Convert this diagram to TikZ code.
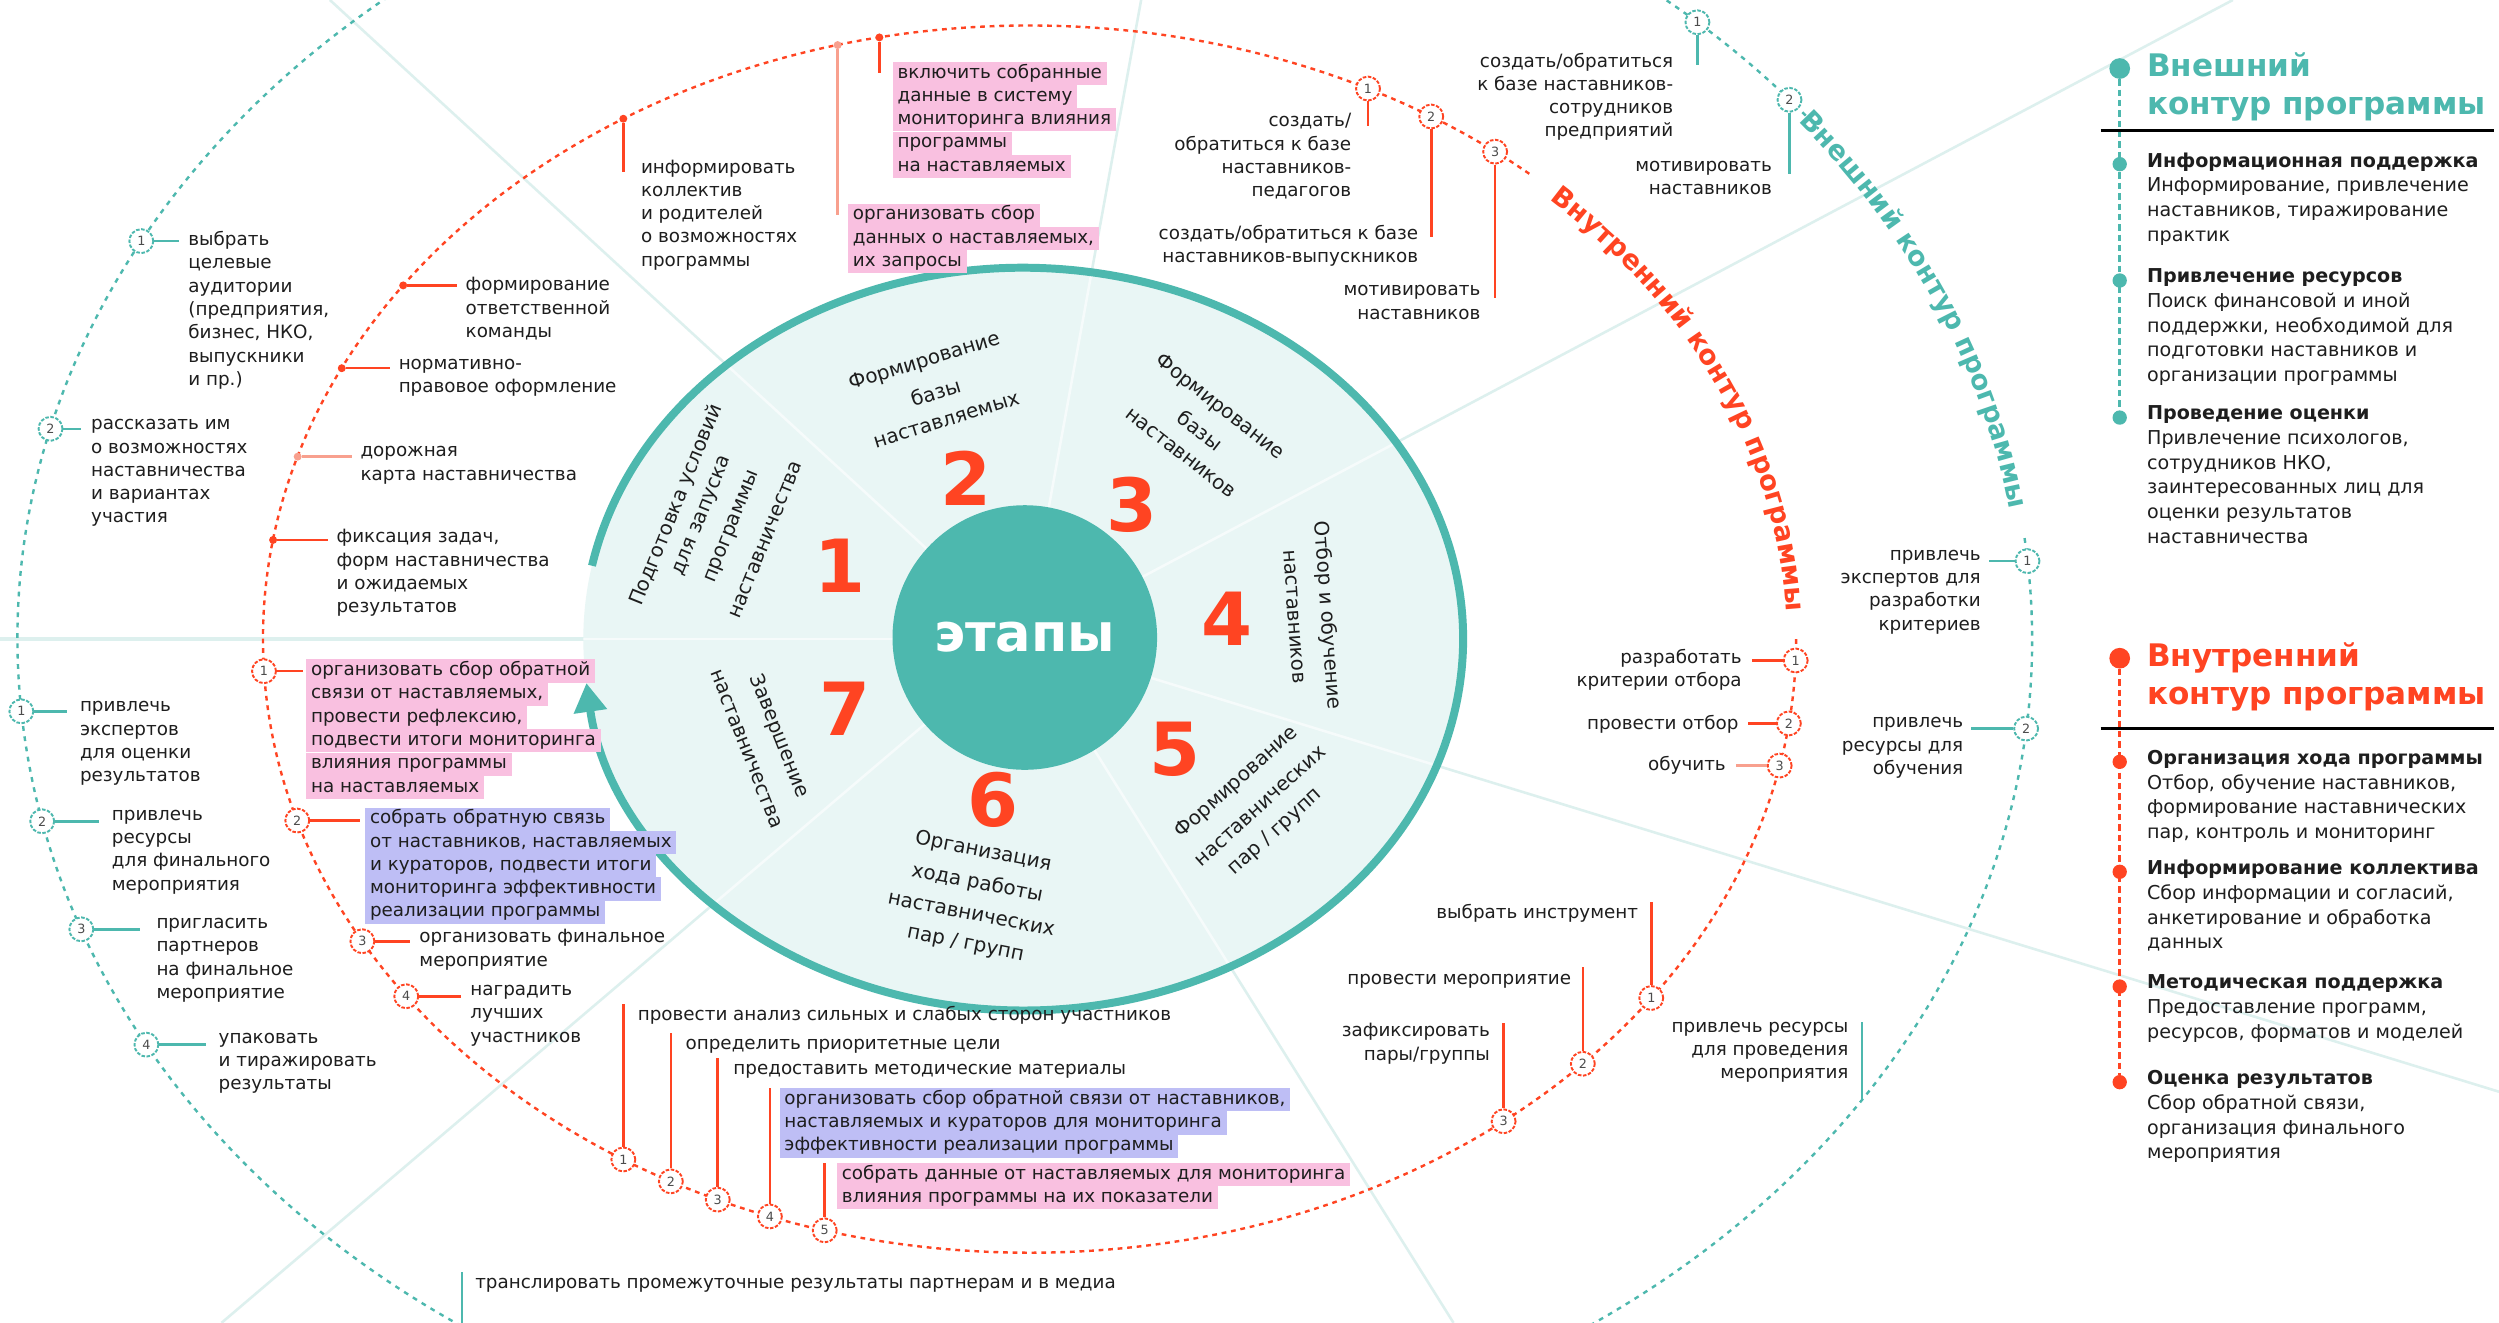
\documentclass[tikz,border=0pt]{standalone}
\usepackage{fontspec}
\setmainfont{DejaVu Sans}
\usetikzlibrary{arrows.meta,decorations.text}
\definecolor{redc}{HTML}{FF4422}
\definecolor{redl}{HTML}{F8A08E}
\definecolor{tealc}{HTML}{4DB8AE}
\definecolor{teall}{HTML}{E9F6F5}
\definecolor{spokec}{HTML}{DDF0EE}
\definecolor{spokein}{HTML}{F6FBFB}
\definecolor{pinkh}{HTML}{F9C0E0}
\definecolor{lavh}{HTML}{BEBEF5}
\definecolor{ink}{HTML}{1E1E1E}
\newcommand\lblfont{\fontsize{11.5}{14.6}\selectfont}
\newcommand\panelfont{\fontsize{12}{15.5}\selectfont}
\newcommand\pheadfont{\bfseries\fontsize{19.5}{24}\selectfont}
\newcommand\stagefont{\fontsize{12.5}{15}\selectfont}
\newcommand\bignumfont{\bfseries\fontsize{46}{46}\selectfont}
\newcommand\cnumfont{\fontsize{8}{8}\selectfont}
\newcommand\arctitlefont{\bfseries\fontsize{17}{17}\selectfont}
\tikzset{
  lbl/.style={font=\lblfont, text=ink, inner sep=0pt, execute at begin node=\strut},
  lblL/.style={lbl, align=left, anchor=north west},
  lblR/.style={lbl, align=right, anchor=north east},
  hlbox/.style={font=\lblfont, text=ink, anchor=west, inner xsep=3pt, inner ysep=0pt, text height=10.2pt, text depth=4.3pt},
  rnum/.style={circle, draw=redc, line width=1.2pt, dash pattern=on 2.2pt off 1pt, fill=white, minimum size=15pt, inner sep=0pt, font=\cnumfont, text=black!70},
  tnum/.style={rnum, draw=tealc},
  rdot/.style={circle, fill=redc, minimum size=5pt, inner sep=0pt},
  rconn/.style={draw=redc, line width=1.6pt},
  lconn/.style={draw=redl, line width=1.6pt},
  tconn/.style={draw=tealc, line width=1.6pt},
  reddash/.style={draw=redc, line width=1.5pt, dash pattern=on 3pt off 3pt},
  tealdash/.style={draw=tealc, line width=1.5pt, dash pattern=on 3pt off 3.5pt},
  spokeln/.style={draw=spokec, line width=1.6pt},
  spokeinner/.style={draw=spokein, line width=1.6pt},
  stagetxt/.style={font=\stagefont, text=ink, inner sep=0pt},
  bignum/.style={font=\bignumfont, text=redc, inner sep=0pt},
  phead/.style={font=\pheadfont, align=left, anchor=north west, inner sep=0pt, execute at begin node=\strut},
  ptext/.style={font=\panelfont, text=ink, align=left, anchor=north west, inner sep=0pt, execute at begin node=\strut},
  bigdot/.style={circle, minimum size=13pt, inner sep=0pt},
  smalldot/.style={circle, minimum size=9pt, inner sep=0pt},
}
\begin{document}
\begin{tikzpicture}[x=1pt,y=-1pt]
\useasboundingbox (0,0) rectangle (1568,830);
\fill[white] (0,0) rectangle (1568,830);
\clip (0,0) rectangle (1568,830);
\coordinate (c0) at (643,401);
\coordinate (cr) at (646,401);
\coordinate (cd) at (642,401);
% spokes (outside)
\coordinate (s1) at (0,401);
\coordinate (s2) at (207,0);
\coordinate (s3) at (716,0);
\coordinate (s4) at (1401,0);
\coordinate (s5) at (1568,685);
\coordinate (s6) at (912,830);
\coordinate (s7) at (139,830);
\foreach \s in {s2,s3,s4,s5,s6,s7} \draw[spokeln] (c0) -- (\s);
\draw[spokeln, line width=2.6pt] (c0) -- (s1);
% disc
\fill[teall] (cd) ellipse [x radius=276, y radius=233];
\begin{scope}
  \clip (cd) ellipse [x radius=276, y radius=233];
  \foreach \s in {s1,s2,s3,s4,s5,s6,s7} \draw[spokeinner] (c0) -- (\s);
\end{scope}
% disc border with arrow
\draw[tealc, line width=5pt, -{Triangle[length=18pt, width=20pt]}] (cd) ++(-168.6:276 and 233) arc[start angle=-168.6, end angle=173.2, x radius=276, y radius=233];
% core
\node[circle, fill=tealc, minimum size=166pt, inner sep=0pt, font=\bfseries\fontsize{33}{33}\selectfont, text=white] (core) at (643,400) {этапы};
% numbers
\node[bignum] (n1) at (527,355) {1};
\node[bignum] (n2) at (606,300) {2};
\node[bignum] (n3) at (710,317) {3};
\node[bignum] (n4) at (770,388) {4};
\node[bignum] (n5) at (737,470) {5};
\node[bignum] (n6) at (623,502) {6};
\node[bignum] (n7) at (530,445) {7};
% stage texts
\node[stagetxt, rotate=68] (st1a) at (424.5,317) {Подготовка условий};
\node[stagetxt, rotate=68] (st1b) at (441.3,323.7) {для запуска};
\node[stagetxt, rotate=68] (st1c) at (460,330.8) {программы};
\node[stagetxt, rotate=68] (st1d) at (480.5,338.7) {наставничества};
\node[stagetxt, rotate=17] (st2a) at (580,227) {Формирование};
\node[stagetxt, rotate=17] (st2b) at (587,246) {базы};
\node[stagetxt, rotate=17] (st2c) at (594,264) {наставляемых};
\node[stagetxt, rotate=-38] (st3a) at (765.2,255.5) {Формирование};
\node[stagetxt, rotate=-38] (st3b) at (753,270) {базы};
\node[stagetxt, rotate=-38] (st3c) at (740.7,284.6) {наставников};
\node[stagetxt, rotate=-86] (st4a) at (832.6,386) {Отбор и обучение};
\node[stagetxt, rotate=-86] (st4b) at (811.7,387) {наставников};
\node[stagetxt, rotate=42] (st5a) at (776,491) {Формирование};
\node[stagetxt, rotate=42] (st5b) at (791,506) {наставнических};
\node[stagetxt, rotate=42] (st5c) at (800,522) {пар / групп};
\node[stagetxt, rotate=-11] (st6a) at (617,534.5) {Организация};
\node[stagetxt, rotate=-11] (st6b) at (613.2,554.2) {хода работы};
\node[stagetxt, rotate=-11] (st6c) at (609.4,573.8) {наставнических};
\node[stagetxt, rotate=-11] (st6d) at (605.8,592.4) {пар / групп};
\node[stagetxt, rotate=-68.5] (st7a) at (488.6,461.9) {Завершение};
\node[stagetxt, rotate=-68.5] (st7b) at (468.2,470) {наставничества};
% dashed contours
\draw[reddash] (cr) ++(0:481 and 385) arc[start angle=0, end angle=311, x radius=481, y radius=385];
\path[decorate, decoration={text along path, text align=center, text color=redc, text={|\arctitlefont|Внутренний контур программы}}] (cr) ++(-48:475 and 379) arc[start angle=-48, end angle=-1, x radius=475, y radius=379];
\draw[tealdash] (c0) ++(-7:632 and 520) arc[start angle=-7, end angle=322, x radius=632, y radius=520];
\path[decorate, decoration={text along path, text align=center, text color=tealc, text={|\arctitlefont|Внешний контур программы}}] (c0) ++(-42:626 and 514) arc[start angle=-42, end angle=-6, x radius=626, y radius=514];

% ---------- teal left-top
\path (c0) ++(-151.3:632 and 520) node[tnum] (ta1) {1};
\path (c0) ++(-165.3:632 and 520) node[tnum] (ta2) {2};
\node[lblL] (lta1) at (118,145) {выбрать\\целевые\\аудитории\\(предприятия,\\бизнес, НКО,\\выпускники\\и пр.)};
\node[lblL] (lta2) at (57,263) {рассказать им\\о возможностях\\наставничества\\и вариантах\\участия};
\draw[tconn, shorten >=6pt] (ta1) -- (ta1 -| lta1.west);
\draw[tconn, shorten >=6pt] (ta2) -- (ta2 -| lta2.west);
% ---------- red left-top dots
\path (cr) ++(-144.8:481 and 385) node[rdot] (rd1) {};
\path (cr) ++(-153.8:481 and 385) node[rdot] (rd2) {};
\path (cr) ++(-162.7:481 and 385) node[rdot, fill=redl] (rd3) {};
\path (cr) ++(-170.7:481 and 385) node[rdot] (rd4) {};
\node[lblL] (lrd1) at (292,174) {формирование\\ответственной\\команды};
\node[lblL] (lrd2) at (250,225) {нормативно-\\правовое оформление};
\node[lblL] (lrd3) at (226,280) {дорожная\\карта наставничества};
\node[lblL] (lrd4) at (211,332) {фиксация задач,\\форм наставничества\\и ожидаемых\\результатов};
\draw[rconn, shorten >=5pt] (rd1) -- (rd1 -| lrd1.west);
\draw[rconn, shorten >=5pt] (rd2) -- (rd2 -| lrd2.west);
\draw[lconn, shorten >=5pt] (rd3) -- (rd3 -| lrd3.west);
\draw[rconn, shorten >=5pt] (rd4) -- (rd4 -| lrd4.west);
% ---------- red top
\path (cr) ++(-122:481 and 385) node[rdot] (rd5) {};
\path (cr) ++(-104.5:481 and 385) node[rdot, fill=redl] (rd6) {};
\path (cr) ++(-101.3:481 and 385) node[rdot] (rd7) {};
\node[lblL] (lrd5) at (402,100) {информировать\\коллектив\\и родителей\\о возможностях\\программы};
\draw[rconn] (rd5) -- ([yshift=-8pt]rd5 |- lrd5.north);
\node[hlbox, fill=pinkh] (pa1) at (532,135) {организовать сбор};
\node[hlbox, fill=pinkh] (pa2) at (532,149.6) {данных о наставляемых,};
\node[hlbox, fill=pinkh] (pa3) at (532,164.2) {их запросы};
\draw[lconn] (rd6) -- (rd6 |- pa1.center);
\node[hlbox, fill=pinkh] (pb1) at (560,46) {включить собранные};
\node[hlbox, fill=pinkh] (pb2) at (560,60.6) {данные в систему};
\node[hlbox, fill=pinkh] (pb3) at (560,75.2) {мониторинга влияния};
\node[hlbox, fill=pinkh] (pb4) at (560,89.8) {программы};
\node[hlbox, fill=pinkh] (pb5) at (560,104.4) {на наставляемых};
\draw[rconn] (rd7) -- (rd7 |- pb1.center);
% ---------- red top-right
\path (cr) ++(-63.8:481 and 385) node[rnum] (rn1) {1};
\path (cr) ++(-58.4:481 and 385) node[rnum] (rn2) {2};
\path (cr) ++(-52.6:481 and 385) node[rnum] (rn3) {3};
\node[lblR] (lrn1) at (848,71) {создать/\\обратиться к базе\\наставников-\\педагогов};
\node[lblR] (lrn2) at (890,141) {создать/обратиться к базе\\наставников-выпускников};
\node[lblR] (lrn3) at (929,179) {мотивировать\\наставников};
\draw[rconn] (rn1) -- ([yshift=-8pt]rn1 |- lrn1.north);
\draw[rconn] (rn2) -- ([yshift=-8pt]rn2 |- lrn2.north);
\draw[rconn] (rn3) -- ([yshift=-8pt]rn3 |- lrn3.north);
% ---------- teal top-right
\path (c0) ++(-48.1:632 and 520) node[tnum] (tt1) {1};
\path (c0) ++(-40.6:632 and 520) node[tnum] (tt2) {2};
\node[lblR] (ltt1) at (1050,33) {создать/обратиться\\к базе наставников-\\сотрудников\\предприятий};
\node[lblR] (ltt2) at (1112,101) {мотивировать\\наставников};
\draw[tconn] (tt1) -- ([yshift=-8pt]tt1 |- ltt1.north);
\draw[tconn] (tt2) -- ([yshift=-8pt]tt2 |- ltt2.north);
% ---------- teal right
\path (c0) ++(-5.4:632 and 520) node[tnum] (tr1) {1};
\path (c0) ++(6.2:632 and 520) node[tnum] (tr2) {2};
\node[lblR] (ltr1) at (1243,345) {привлечь\\экспертов для\\разработки\\критериев};
\node[lblR] (ltr2) at (1232,450) {привлечь\\ресурсы для\\обучения};
\draw[tconn, shorten >=5pt] (tr1) -- (tr1 -| ltr1.east);
\draw[tconn, shorten >=5pt] (tr2) -- (tr2 -| ltr2.east);
% ---------- red right
\path (cr) ++(2:481 and 385) node[rnum] (rr1) {1};
\path (cr) ++(7.9:481 and 385) node[rnum] (rr2) {2};
\path (cr) ++(11.9:481 and 385) node[rnum] (rr3) {3};
\node[lblR] (lrr1) at (1093,407) {разработать\\критерии отбора};
\node[lblR] (lrr2) at (1091,447) {провести отбор};
\node[lblR] (lrr3) at (1083,473) {обучить};
\draw[rconn, shorten >=6pt] (rr1) -- (rr1 -| lrr1.east);
\draw[rconn, shorten >=6pt] (rr2) -- (rr2 -| lrr2.east);
\draw[lconn, shorten >=6pt] (rr3) -- (rr3 -| lrr3.east);
% ---------- red right-bottom
\path (cr) ++(35.8:481 and 385) node[rnum] (rb1) {1};
\path (cr) ++(43.8:481 and 385) node[rnum] (rb2) {2};
\path (cr) ++(51.8:481 and 385) node[rnum] (rb3) {3};
\node[lblR] (lrb1) at (1028,566) {выбрать инструмент};
\node[lblR] (lrb2) at (986,607) {провести мероприятие};
\node[lblR] (lrb3) at (935,642) {зафиксировать\\пары/группы};
\draw[rconn] (rb1) -- (rb1 |- lrb1.north);
\draw[rconn] (rb2) -- (rb2 |- lrb2.north);
\draw[rconn] (rb3) -- (rb3 |- lrb3.north);
\path (c0) ++(33.8:632 and 520) coordinate (trb);
\node[lblR] (ltrb) at (1160,641) {привлечь ресурсы\\для проведения\\мероприятия};
\draw[tconn] (trb) -- (trb |- ltrb.north);
% ---------- red bottom
\path (cr) ++(122:481 and 385) node[rnum] (bb1) {1};
\path (cr) ++(117.9:481 and 385) node[rnum] (bb2) {2};
\path (cr) ++(114:481 and 385) node[rnum] (bb3) {3};
\path (cr) ++(109.8:481 and 385) node[rnum] (bb4) {4};
\path (cr) ++(105.5:481 and 385) node[rnum] (bb5) {5};
\node[lblL] (lbb1) at (400,630) {провести анализ сильных и слабых сторон участников};
\node[lblL] (lbb2) at (430,648) {определить приоритетные цели};
\node[lblL] (lbb3) at (460,664) {предоставить методические материалы};
\node[hlbox, fill=lavh] (lv1) at (489,690) {организовать сбор обратной связи от наставников,};
\node[hlbox, fill=lavh] (lv2) at (489,704.6) {наставляемых и кураторов для мониторинга};
\node[hlbox, fill=lavh] (lv3) at (489,719.2) {эффективности реализации программы};
\node[hlbox, fill=pinkh] (pc1) at (525,737) {собрать данные от наставляемых для мониторинга};
\node[hlbox, fill=pinkh] (pc2) at (525,751.6) {влияния программы на их показатели};
\draw[rconn] (bb1) -- (bb1 |- lbb1.north);
\draw[rconn] (bb2) -- (bb2 |- lbb2.north);
\draw[rconn] (bb3) -- (bb3 |- lbb3.north);
\draw[rconn] (bb4) -- (bb4 |- lv1.north);
\draw[rconn] (bb5) -- (bb5 |- pc1.north);
% ---------- teal bottom
\node[lblL] (lbt) at (298,798) {транслировать промежуточные результаты партнерам и в медиа};
\coordinate (tbe) at (290,830);
\draw[tconn] (tbe) -- (tbe |- lbt.north);
% ---------- red left
\path (cr) ++(177:481 and 385) node[rnum] (rl1) {1};
\path (cr) ++(162.8:481 and 385) node[rnum] (rl2) {2};
\path (cr) ++(150.5:481 and 385) node[rnum] (rl3) {3};
\path (cr) ++(144.4:481 and 385) node[rnum] (rl4) {4};
\node[hlbox, fill=pinkh] (pd1) at (192,421) {организовать сбор обратной};
\node[hlbox, fill=pinkh] (pd2) at (192,435.6) {связи от наставляемых,};
\node[hlbox, fill=pinkh] (pd3) at (192,450.2) {провести рефлексию,};
\node[hlbox, fill=pinkh] (pd4) at (192,464.8) {подвести итоги мониторинга};
\node[hlbox, fill=pinkh] (pd5) at (192,479.4) {влияния программы};
\node[hlbox, fill=pinkh] (pd6) at (192,494) {на наставляемых};
\node[hlbox, fill=lavh] (le1) at (229,514) {собрать обратную связь};
\node[hlbox, fill=lavh] (le2) at (229,528.6) {от наставников, наставляемых};
\node[hlbox, fill=lavh] (le3) at (229,543.2) {и кураторов, подвести итоги};
\node[hlbox, fill=lavh] (le4) at (229,557.8) {мониторинга эффективности};
\node[hlbox, fill=lavh] (le5) at (229,572.4) {реализации программы};
\node[lblL] (lrl3) at (263,583) {организовать финальное\\мероприятие};
\node[lblL] (lrl4) at (295,618) {наградить\\лучших\\участников};
\draw[rconn, shorten >=2pt] (rl1) -- (rl1 -| pd1.west);
\draw[rconn, shorten >=3pt] (rl2) -- (rl2 -| le1.west);
\draw[rconn, shorten >=6pt] (rl3) -- (rl3 -| lrl3.west);
\draw[rconn, shorten >=6pt] (rl4) -- (rl4 -| lrl4.west);
% ---------- teal left
\path (c0) ++(175:632 and 520) node[tnum] (tl1) {1};
\path (c0) ++(167.3:632 and 520) node[tnum] (tl2) {2};
\path (c0) ++(159.5:632 and 520) node[tnum] (tl3) {3};
\path (c0) ++(150.7:632 and 520) node[tnum] (tl4) {4};
\node[lblL] (ltl1) at (50,440) {привлечь\\экспертов\\для оценки\\результатов};
\node[lblL] (ltl2) at (70,508) {привлечь\\ресурсы\\для финального\\мероприятия};
\node[lblL] (ltl3) at (98,576) {пригласить\\партнеров\\на финальное\\мероприятие};
\node[lblL] (ltl4) at (137,648) {упаковать\\и тиражировать\\результаты};
\draw[tconn, shorten >=8pt] (tl1) -- (tl1 -| ltl1.west);
\draw[tconn, shorten >=8pt] (tl2) -- (tl2 -| ltl2.west);
\draw[tconn, shorten >=10pt] (tl3) -- (tl3 -| ltl3.west);
\draw[tconn, shorten >=8pt] (tl4) -- (tl4 -| ltl4.west);

% ---------- right panel: outer
\node[bigdot, fill=tealc] (po0) at (1330,43) {};
\node[smalldot, fill=tealc] (po1) at (1330,103) {};
\node[smalldot, fill=tealc] (po2) at (1330,176) {};
\node[smalldot, fill=tealc] (po3) at (1330,262) {};
\draw[tealc, line width=1.6pt, dash pattern=on 4pt off 2.5pt] (po0) -- (po3);
\draw[black, line width=1.6pt] (1318,82) -- (1565,82);
\node[phead, text=tealc] (ph1) at (1347,33) {Внешний\\контур программы};
\node[ptext] (pt1) at (1347,95.5) {\textbf{Информационная поддержка}\\Информирование, привлечение\\наставников, тиражирование\\практик};
\node[ptext] (pt2) at (1347,168.5) {\textbf{Привлечение ресурсов}\\Поиск финансовой и иной\\поддержки, необходимой для\\подготовки наставников и\\организации программы};
\node[ptext] (pt3) at (1347,254.5) {\textbf{Проведение оценки}\\Привлечение психологов,\\сотрудников НКО,\\заинтересованных лиц для\\оценки результатов\\наставничества};
% ---------- right panel: inner
\node[bigdot, fill=redc] (pr0) at (1330,413) {};
\node[smalldot, fill=redc] (pr1) at (1330,478) {};
\node[smalldot, fill=redc] (pr2) at (1330,547) {};
\node[smalldot, fill=redc] (pr3) at (1330,619) {};
\node[smalldot, fill=redc] (pr4) at (1330,679) {};
\draw[redc, line width=1.6pt, dash pattern=on 4pt off 2.5pt] (pr0) -- (pr4);
\draw[black, line width=1.6pt] (1318,457) -- (1565,457);
\node[phead, text=redc] (ph2) at (1347,403) {Внутренний\\контур программы};
\node[ptext] (pq1) at (1347,470.5) {\textbf{Организация хода программы}\\Отбор, обучение наставников,\\формирование наставнических\\пар, контроль и мониторинг};
\node[ptext] (pq2) at (1347,539.5) {\textbf{Информирование коллектива}\\Сбор информации и согласий,\\анкетирование и обработка\\данных};
\node[ptext] (pq3) at (1347,611.5) {\textbf{Методическая поддержка}\\Предоставление программ,\\ресурсов, форматов и моделей};
\node[ptext] (pq4) at (1347,671.5) {\textbf{Оценка результатов}\\Сбор обратной связи,\\организация финального\\мероприятия};
\end{tikzpicture}
\end{document}
